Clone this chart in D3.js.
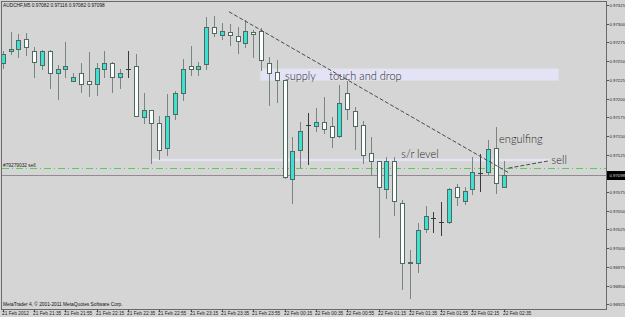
<!DOCTYPE html>
<html><head><meta charset="utf-8">
<script src="https://cdn.jsdelivr.net/npm/d3@7/dist/d3.min.js"></script>
<style>html,body{margin:0;padding:0;background:#d5d5d5;overflow:hidden}</style>
</head><body><svg id="c" width="625" height="317"></svg>
<script>
// ---- data (AUDCHF M5, 21 Feb 21:15 .. 22 Feb 02:35) ----
const opens  = [0.97247,0.97264,0.97266,0.97280,0.97264,0.97245,0.97264,0.97234,0.97239,0.97224,0.97234,0.97224,0.97220,0.97240,0.97247,0.97229,0.97239,0.97243,0.97175,0.97185,0.97167,0.97134,0.97179,0.97207,0.97243,0.97240,0.97246,0.97296,0.97285,0.97289,0.97283,0.97274,0.97289,0.97290,0.97247,0.97235,0.97225,0.97093,0.97131,0.97164,0.97163,0.97169,0.97163,0.97150,0.97207,0.97184,0.97164,0.97127,0.97116,0.97079,0.97117,0.97061,0.96980,0.96980,0.97025,0.97041,0.97035,0.97035,0.97082,0.97063,0.97079,0.97101,0.97102,0.97134,0.97082];
const highs  = [0.97263,0.97289,0.97286,0.97287,0.97269,0.97265,0.97265,0.97245,0.97275,0.97234,0.97248,0.97262,0.97248,0.97264,0.97249,0.97240,0.97264,0.97260,0.97207,0.97185,0.97176,0.97206,0.97210,0.97253,0.97270,0.97249,0.97309,0.97310,0.97301,0.97300,0.97296,0.97305,0.97291,0.97294,0.97256,0.97252,0.97225,0.97149,0.97169,0.97180,0.97187,0.97202,0.97175,0.97218,0.97223,0.97189,0.97170,0.97149,0.97116,0.97122,0.97122,0.97064,0.96998,0.97033,0.97056,0.97048,0.97062,0.97080,0.97086,0.97082,0.97122,0.97126,0.97144,0.97162,0.97116];
const lows   = [0.97241,0.97260,0.97255,0.97258,0.97229,0.97240,0.97214,0.97199,0.97229,0.97223,0.97209,0.97204,0.97205,0.97229,0.97209,0.97214,0.97229,0.97176,0.97167,0.97114,0.97119,0.97125,0.97173,0.97198,0.97231,0.97231,0.97239,0.97283,0.97280,0.97272,0.97261,0.97269,0.97256,0.97238,0.97191,0.97196,0.97094,0.97061,0.97109,0.97113,0.97156,0.97154,0.97135,0.97148,0.97172,0.97132,0.97114,0.97098,0.97015,0.97067,0.97045,0.96945,0.96934,0.96968,0.97022,0.97021,0.97018,0.97033,0.97058,0.97059,0.97072,0.97076,0.97099,0.97074,0.97082];
const closes = [0.97260,0.97266,0.97278,0.97269,0.97249,0.97264,0.97234,0.97240,0.97244,0.97229,0.97220,0.97220,0.97241,0.97248,0.97229,0.97234,0.97239,0.97177,0.97185,0.97167,0.97131,0.97177,0.97207,0.97239,0.97239,0.97244,0.97295,0.97287,0.97290,0.97285,0.97277,0.97290,0.97286,0.97251,0.97234,0.97225,0.97095,0.97130,0.97157,0.97164,0.97169,0.97159,0.97148,0.97194,0.97186,0.97163,0.97124,0.97116,0.97082,0.97117,0.97063,0.96980,0.96982,0.97024,0.97043,0.97041,0.97035,0.97079,0.97068,0.97077,0.97102,0.97101,0.97132,0.97087,0.97098];

const priceTicks = [0.97325,0.97300,0.97275,0.97250,0.97225,0.97200,0.97175,0.97150,0.97125,0.97075,0.97050,0.97025,0.97000,0.96975,0.96950,0.96925];
const timeLabels = ["21 Feb 2012","21 Feb 21:35","21 Feb 21:55","21 Feb 22:15","21 Feb 22:35","21 Feb 22:55","21 Feb 23:15","21 Feb 23:35","21 Feb 23:55","22 Feb 00:15","22 Feb 00:35","22 Feb 00:55","22 Feb 01:15","22 Feb 01:35","22 Feb 01:55","22 Feb 02:15","22 Feb 02:35"];
const labelEvery = 4;

const currentPrice = 0.97098;
const orderPrice = 0.97107;
const orderLabel = "#79279032 sell";
const titleText = "AUDCHF,M5  0.97082 0.97116 0.97082 0.97098";
const footerText = "MetaTrader 4, \u00a9 2001-2011 MetaQuotes Software Corp.";

// annotations in (bar index, price)
const supplyZone = {i0:32.9, i1:71.0, pTop:0.97240, pBot:0.97224};
const srLevel = {i0:19.0, i1:69.9, p:0.97118};
const trendLine = [[28.9,0.97316],[64.6,0.97101]];
const sellArrow = [[64.6,0.97107],[69.9,0.97117]];
const notes = [
  {t:"supply", i:36.05, p:0.97230},
  {t:"touch and drop", i:41.7, p:0.97230},
  {t:"s/r level", i:50.9, p:0.97126},
  {t:"engulfing", i:63.4, p:0.97146},
  {t:"sell", i:70.1, p:0.97117}
];

// ---- drawing ----
const svg = d3.select("#c");
const P = {l:2, t:2, r:606, b:309};
const x = d3.scaleLinear().domain([0,64]).range([2.7,503.8]);
const y = d3.scaleLinear().domain([0.96925,0.97325]).range([304.3,5]);

svg.append("rect").attr("width",625).attr("height",317).attr("fill","#d5d5d5");

const defs = svg.append("defs");
defs.append("clipPath").attr("id","clip").append("rect")
  .attr("x",P.l).attr("y",P.t).attr("width",P.r-P.l).attr("height",P.b-P.t);

const g = svg.append("g").attr("clip-path","url(#clip)");

// supply zone
g.append("rect")
  .attr("x",x(supplyZone.i0)).attr("width",x(supplyZone.i1)-x(supplyZone.i0))
  .attr("y",y(supplyZone.pTop)).attr("height",y(supplyZone.pBot)-y(supplyZone.pTop))
  .attr("fill","#e3e3f5");

// s/r level
g.append("line")
  .attr("x1",x(srLevel.i0)).attr("x2",x(srLevel.i1))
  .attr("y1",y(srLevel.p)).attr("y2",y(srLevel.p))
  .attr("stroke","#e3e3f5").attr("stroke-width",2.5);

// order line (dash-dot green)
g.append("line")
  .attr("x1",P.l).attr("x2",P.r).attr("y1",Math.round(y(orderPrice))+0.5).attr("y2",Math.round(y(orderPrice))+0.5)
  .attr("stroke","#55d055").attr("stroke-dasharray","7,3,1,3");

// current price line
g.append("line")
  .attr("x1",P.l).attr("x2",P.r).attr("y1",Math.round(y(currentPrice))+0.5).attr("y2",Math.round(y(currentPrice))+0.5)
  .attr("stroke","#8e8e8e");

// candles
const bars = d3.range(opens.length).map(i=>({i,o:opens[i],h:highs[i],l:lows[i],c:closes[i]}));
const cg = g.append("g");
bars.forEach(d=>{
  const r = Math.round(x(d.i));
  const doji = d.o===d.c;
  cg.append("line").attr("x1",r+0.5).attr("x2",r+0.5)
    .attr("y1",Math.round(y(d.h))).attr("y2",Math.round(y(d.l))+1)
    .attr("stroke",doji?"#3a3a3a":"#76877f");
  if(doji){
    const yy = Math.round(y(d.o))+0.5;
    cg.append("line").attr("x1",r-2).attr("x2",r+3).attr("y1",yy).attr("y2",yy).attr("stroke","#3a3a3a");
  } else {
    const yt = Math.round(y(Math.max(d.o,d.c))), yb = Math.round(y(Math.min(d.o,d.c)));
    cg.append("rect").attr("x",r-1.5).attr("width",4)
      .attr("y",yt+0.5).attr("height",Math.max(1,yb-yt))
      .attr("fill",d.c>d.o?"#40e0d0":"#ffffff")
      .attr("stroke","#4f6a61");
  }
});

// trend line
g.append("line")
  .attr("x1",x(trendLine[0][0])).attr("y1",y(trendLine[0][1]))
  .attr("x2",x(trendLine[1][0])).attr("y2",y(trendLine[1][1]))
  .attr("stroke","#4a4a4a").attr("stroke-dasharray","4,2");
g.append("line")
  .attr("x1",x(sellArrow[0][0])).attr("y1",y(sellArrow[0][1]))
  .attr("x2",x(sellArrow[1][0])).attr("y2",y(sellArrow[1][1]))
  .attr("stroke","#4a4a4a").attr("stroke-dasharray","4,2");

// notes
g.selectAll("text.note").data(notes).enter().append("text")
  .attr("x",d=>x(d.i)).attr("y",d=>y(d.p)).attr("dy","0.35em")
  .attr("font-family","Lato, 'DejaVu Sans', sans-serif").attr("font-weight",300)
  .attr("font-size",11).attr("fill","#262626").text(d=>d.t);

// order label
g.append("text").attr("x",3).attr("y",y(orderPrice)-1.5)
  .attr("font-family","'Liberation Sans',Arial,sans-serif").attr("font-size",4.8).attr("fill","#222").text(orderLabel);

// title & footer
svg.append("text").attr("x",3).attr("y",7).attr("font-family","'Liberation Sans',Arial,sans-serif")
  .attr("font-size",4.8).attr("fill","#111").text(titleText);
svg.append("text").attr("x",3).attr("y",306).attr("font-family","'Liberation Sans',Arial,sans-serif")
  .attr("font-size",4.8).attr("fill","#111").text(footerText);

// frame
svg.append("rect").attr("x",P.l-0.5).attr("y",P.t-0.5).attr("width",P.r-P.l+1).attr("height",P.b-P.t+1)
  .attr("fill","none").attr("stroke","#6a6a6a");

// price axis
const ya = svg.append("g");
priceTicks.forEach(p=>{
  const yy = Math.round(y(p))+0.5;
  ya.append("line").attr("x1",P.r+0.5).attr("x2",P.r+3).attr("y1",yy).attr("y2",yy).attr("stroke","#555");
  ya.append("text").attr("x",P.r+3.5).attr("y",yy).attr("dy","0.35em")
    .attr("font-family","'Liberation Sans',Arial,sans-serif").attr("font-size",4.3).attr("fill","#222")
    .text(d3.format(".5f")(p));
});
const cy = Math.round(y(currentPrice))+0.5;
ya.append("rect").attr("x",P.r+1).attr("y",cy-4.5).attr("width",18).attr("height",9).attr("fill","#000");
ya.append("text").attr("x",P.r+3.5).attr("y",cy).attr("dy","0.35em")
  .attr("font-family","'Liberation Sans',Arial,sans-serif").attr("font-size",4.3).attr("fill","#ddd")
  .text(d3.format(".5f")(currentPrice));

// time axis
const xa = svg.append("g");
timeLabels.forEach((t,k)=>{
  const xx = Math.round(x(k*labelEvery))+0.5;
  xa.append("line").attr("x1",xx).attr("x2",xx).attr("y1",P.b+0.5).attr("y2",P.b+3).attr("stroke","#555");
  xa.append("text").attr("x",xx-1.5).attr("y",313.5).attr("dy","0.35em")
    .attr("font-family","'Liberation Sans',Arial,sans-serif").attr("font-size",4.8).attr("fill","#222").text(t);
});
</script></body></html>
